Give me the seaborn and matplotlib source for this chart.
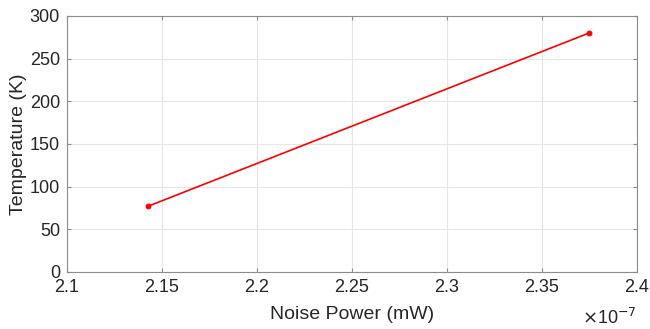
import matplotlib
matplotlib.use("Agg")
import matplotlib.pyplot as plt
import seaborn as sns
import pandas as pd

noise_power = [2.1426e-7, 2.3747e-7]
temperature = [77, 280]

sns.set_style("whitegrid")
plt.rcParams['font.family'] = ['Liberation Sans', 'DejaVu Sans']

df = pd.DataFrame({"Noise Power (mW)": noise_power, "Temperature (K)": temperature})

fig = plt.figure(figsize=(6.5, 3.29), dpi=100)
ax = fig.add_axes([67/650, 1-272/329, (637-67)/650, (272-16)/329])
sns.lineplot(data=df, x="Noise Power (mW)", y="Temperature (K)", ax=ax,
             color="#ff0000", linewidth=1.2, marker="o", markersize=3.5,
             markeredgecolor="#ff0000")

ax.set_xlim(2.1e-7, 2.4e-7)
ax.set_ylim(0, 300)
ax.set_xticks([2.1e-7, 2.15e-7, 2.2e-7, 2.25e-7, 2.3e-7, 2.35e-7, 2.4e-7])
ax.set_xticklabels(["2.1", "2.15", "2.2", "2.25", "2.3", "2.35", "2.4"])
ax.set_yticks([0, 50, 100, 150, 200, 250, 300])

ax.grid(True, color="#e6e6e6", linewidth=0.8)
for s in ax.spines.values():
    s.set_color("#8c8c8c")
    s.set_linewidth(0.8)
ax.tick_params(direction="in", length=3, color="#8c8c8c", labelsize=13,
               labelcolor="#262626", top=True, right=True, bottom=True, left=True, pad=5)
ax.set_xlabel("Noise Power (mW)", fontsize=14, color="#262626", labelpad=7)
ax.set_ylabel("Temperature (K)", fontsize=14, color="#262626", labelpad=2)

fig.text(637/650, 1-318/329, r"$\times$10$^{-7}$", ha="right", va="center",
         fontsize=13, color="#262626")

fig.savefig("out.png", dpi=100)
